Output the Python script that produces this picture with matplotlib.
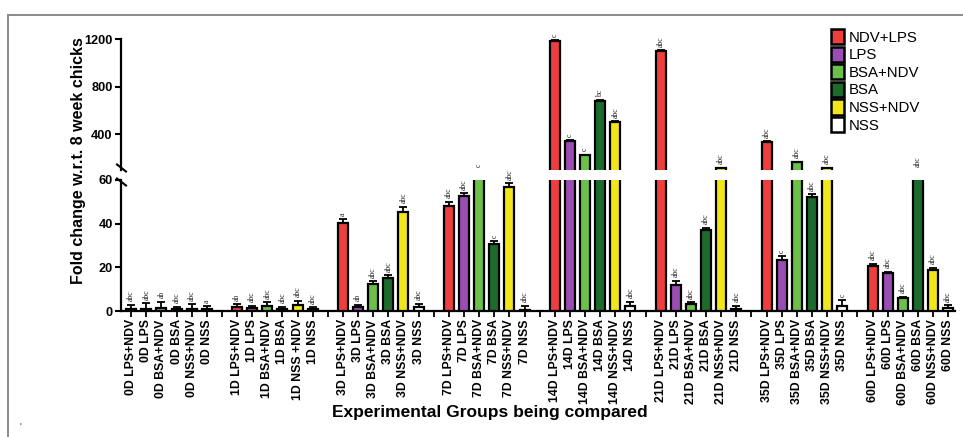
import matplotlib
matplotlib.use("Agg")
import matplotlib.pyplot as plt
import numpy as np
from matplotlib.lines import Line2D
from matplotlib.patches import Patch

plt.rcParams['font.family'] = ['Liberation Sans', 'DejaVu Sans']

groups = ['0D', '1D', '3D', '7D', '14D', '21D', '35D', '60D']
series = ['NDV+LPS', 'LPS', 'BSA+NDV', 'BSA', 'NSS+NDV', 'NSS']
suffixes = ['LPS+NDV', 'LPS', 'BSA+NDV', 'BSA', 'NSS+NDV', 'NSS']
colors = ['#EE3E3E', '#9A4DB3', '#6CC04A', '#1D6B2C', '#F2E51C', '#FFFFFF']

ndv_lps = [1.0, 2.0, 40.5, 48.0, 1185, 1100, 335, 20.5]
lps = [1.0, 1.5, 2.0, 52.5, 345, 12.0, 23.5, 17.3]
bsa_ndv = [1.2, 2.5, 12.3, 80, 225, 3.2, 165, 5.8]
bsa = [0.8, 1.0, 15.0, 30.5, 680, 37.0, 52.0, 85]
nss_ndv = [1.0, 2.8, 45.3, 57.0, 505, 115, 115, 18.8]
nss = [0.8, 0.8, 1.8, 0.5, 2.5, 1.0, 2.5, 1.2]

err_ndv_lps = [1.8, 1.0, 1.5, 2.0, 5, 5, 5, 1.2]
err_lps = [2.5, 1.0, 0.8, 1.5, 5, 1.8, 1.5, 0.6]
err_bsa_ndv = [3.0, 1.5, 1.3, 0, 5, 0.8, 5, 0.8]
err_bsa = [1.2, 1.0, 1.3, 1.5, 5, 1.2, 1.5, 0]
err_nss_ndv = [2.0, 1.8, 2.5, 1.5, 5, 5, 5, 1.0]
err_nss = [1.3, 1.0, 1.5, 2.0, 1.8, 1.5, 2.5, 1.5]

let_ndv_lps = ['abc', 'ab', 'a', 'abc', 'c', 'abc', 'abc', 'abc']
let_lps = ['abc', 'abc', 'ab', 'abc', 'c', 'abc', 'c', 'abc']
let_bsa_ndv = ['ab', 'abc', 'abc', 'c', 'c', 'abc', 'abc', 'abc']
let_bsa = ['abc', 'abc', 'abc', 'c', 'bc', 'abc', 'abc', 'abc']
let_nss_ndv = ['abc', 'abc', 'abc', 'abc', 'abc', 'abc', 'abc', 'abc']
let_nss = ['a', 'abc', 'abc', 'abc', 'abc', 'abc', 'c', 'abc']

values = [ndv_lps, lps, bsa_ndv, bsa, nss_ndv, nss]
errors = [err_ndv_lps, err_lps, err_bsa_ndv, err_bsa, err_nss_ndv, err_nss]
letters = [let_ndv_lps, let_lps, let_bsa_ndv, let_bsa, let_nss_ndv, let_nss]

tick_labels = []
for g in groups:
    for s in suffixes:
        lab = f'{g} {s}'
        if g == '1D' and s == 'NSS+NDV':
            lab = '1D NSS +NDV'
        tick_labels.append(lab)

W, H = 963, 437
fig = plt.figure(figsize=(W / 100, H / 100), dpi=100)

def fx(px):
    return px / W

def fy(py):
    return (H - py) / H

left, right = 121, 955
ax_lo = fig.add_axes([fx(left), fy(311), fx(right - left), fy(180) - fy(311)])
ax_hi = fig.add_axes([fx(left), fy(170), fx(right - left), fy(39) - fy(170)])

lo_lim = (0, 60)
hi_lim = (100, 1200)
bw = 0.66

for ax in (ax_lo, ax_hi):
    for i in range(len(series)):
        xs = np.arange(len(groups)) * 7 + i
        v = np.array(values[i], dtype=float)
        e = np.array(errors[i], dtype=float)
        ax.bar(xs, v, width=bw, color=colors[i], edgecolor='black', linewidth=1.6,
               zorder=3)
        ax.errorbar(xs, v, yerr=[np.zeros_like(e), e], fmt='none', ecolor='black',
                    elinewidth=1.3, capsize=2.6, capthick=1.3, zorder=2)
    ax.set_xlim(-0.67, 54.45)

ax_lo.set_ylim(*lo_lim)
ax_hi.set_ylim(*hi_lim)

# significance letters
for i in range(len(series)):
    for g in range(len(groups)):
        x = g * 7 + i
        v = values[i][g]
        e = errors[i][g]
        top = v + e
        if v >= hi_lim[0]:
            ax, yy = ax_hi, top
        elif v <= lo_lim[1]:
            ax, yy = ax_lo, top
        else:
            ax, yy = ax_hi, hi_lim[0]
        ax.annotate(letters[i][g], (x, yy), xytext=(0, 2.5), textcoords='offset points',
                    rotation=90, ha='center', va='bottom', fontsize=5.6,
                    family=['Liberation Serif', 'DejaVu Serif'], color='#222222',
                    annotation_clip=False, zorder=5)

# spines and ticks
for ax in (ax_lo, ax_hi):
    for sp in ('top', 'right'):
        ax.spines[sp].set_visible(False)
    ax.spines['left'].set_linewidth(1.6)
    ax.tick_params(axis='y', width=1.5, length=4, pad=2)

ax_hi.spines['bottom'].set_visible(False)
ax_hi.set_xticks([])
ax_hi.set_yticks([400, 800, 1200])
ax_lo.set_yticks([0, 20, 40, 60])
for ax in (ax_lo, ax_hi):
    ax.set_yticklabels([str(t) for t in ax.get_yticks().astype(int)],
                       fontweight='bold', fontsize=9.2)

ax_lo.spines['bottom'].set_linewidth(1.6)
pos = [g * 7 + i for g in range(len(groups)) for i in range(len(series))]
ax_lo.set_xticks(pos)
ax_lo.set_xticklabels(tick_labels, rotation=90, fontsize=8.8, fontweight='bold')
ax_lo.set_xticks([g * 7 + 6 for g in range(len(groups) - 1)], minor=True)
ax_lo.tick_params(axis='x', which='both', width=1.3, length=4, pad=2)

# axis break marks
for yb in (168, 182):
    fig.add_artist(Line2D([fx(117), fx(126)], [fy(yb - 3.5), fy(yb + 3.5)],
                          color='black', lw=1.5))

# axis titles
fig.text(fx(79), fy(161), 'Fold change w.r.t. 8 week chicks', rotation=90,
         ha='center', va='center', fontsize=11.5, fontweight='bold')
fig.text(fx(490), fy(413), 'Experimental Groups being compared', ha='center',
         va='center', fontsize=12.5, fontweight='bold')

# legend
handles = [Patch(facecolor=colors[i], edgecolor='black', linewidth=1.8, label=series[i])
           for i in range(len(series))]
ax_hi.legend(handles=handles, loc='upper left', bbox_to_anchor=(fx(831), fy(29)),
             bbox_transform=fig.transFigure, frameon=False, fontsize=10.8,
             handlelength=0.85, handleheight=1.2, handletextpad=0.35,
             labelspacing=0.12, borderpad=0, borderaxespad=0)

# border
fig.add_artist(Line2D([fx(8), fx(963)], [fy(15), fy(15)], color='#8a8a8a', lw=1.4))
fig.add_artist(Line2D([fx(8), fx(8)], [fy(15), fy(437)], color='#8a8a8a', lw=1.4))
fig.text(fx(20), fy(428), "'", fontsize=7, color='#1f3a7a', ha='center', va='center')

fig.savefig('out.png', dpi=100)
